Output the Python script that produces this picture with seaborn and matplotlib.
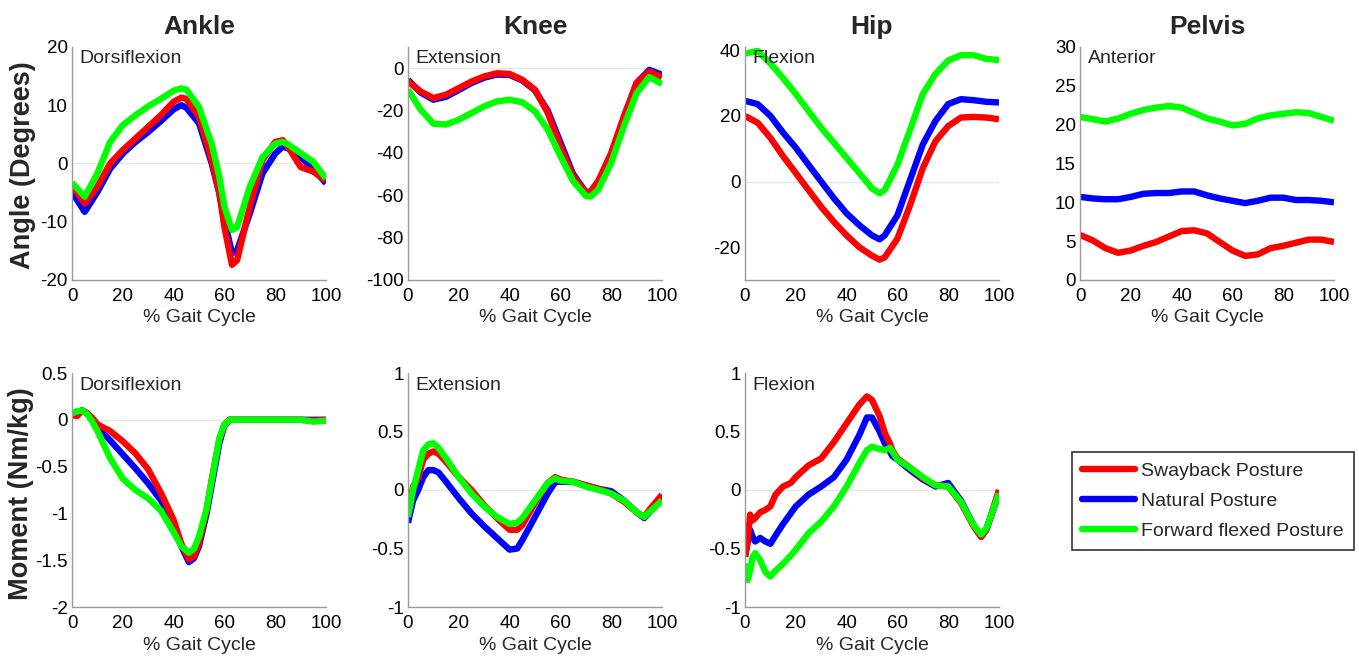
import matplotlib
matplotlib.use("Agg")
import matplotlib.pyplot as plt
import seaborn as sns
from matplotlib.lines import Line2D
from matplotlib.ticker import FuncFormatter

sns.set_style("white")
plt.rcParams['font.family'] = ['Liberation Sans', 'DejaVu Sans']
plt.rcParams['axes.unicode_minus'] = False

# ---------------- data ----------------
series_names = ["Swayback Posture", "Natural Posture", "Forward flexed Posture"]
series_colors = ["#ff0000", "#0000ff", "#00ff00"]

col_titles = ["Ankle", "Knee", "Hip", "Pelvis"]
row_labels = ["Angle (Degrees)", "Moment (Nm/kg)"]

# Ankle angle
aa_x = [0, 5, 10, 15, 20, 25, 30, 35, 40, 43, 45, 50, 55, 58, 60, 63, 65, 70, 75, 80, 83, 85, 90, 95, 100]
aa_sway = [-3.7, -6.9, -4.0, 0.0, 2.3, 4.3, 6.3, 8.3, 10.6, 11.3, 11.1, 8.0, 0.6, -5.1, -10.9, -17.4, -16.6, -7.4, 0.6, 3.7, 4.0, 2.9, -0.6, -1.4, -2.9]
aa_nat = [-4.9, -8.3, -4.9, -0.9, 1.7, 3.7, 5.4, 7.3, 9.3, 10.0, 9.6, 6.9, 0.0, -5.1, -9.7, -15.4, -14.9, -8.6, -1.7, 1.7, 2.9, 2.6, 1.1, -0.9, -3.4]
aa_fwd = [-3.3, -5.7, -1.7, 3.7, 6.6, 8.3, 9.8, 11.1, 12.5, 12.9, 12.7, 9.7, 3.4, -2.3, -7.4, -11.4, -10.9, -4.0, 1.1, 3.4, 3.7, 3.3, 1.8, 0.3, -2.6]

# Knee angle
ka_x = [0, 5, 10, 15, 20, 25, 30, 35, 40, 45, 50, 55, 60, 65, 70, 72, 75, 80, 85, 90, 95, 100]
ka_sway = [-6.3, -11.0, -14.1, -12.5, -9.4, -6.3, -3.9, -2.4, -2.7, -5.5, -10.2, -21.0, -37.0, -51.0, -58.8, -58.0, -53.0, -40.0, -22.7, -7.0, -1.6, -4.2]
ka_nat = [-5.5, -11.5, -14.9, -13.5, -10.3, -7.0, -4.5, -3.0, -3.2, -5.8, -10.5, -20.0, -35.0, -50.0, -58.5, -58.5, -54.0, -41.0, -23.5, -7.0, -0.8, -3.1]
ka_fwd = [-10.2, -19.6, -26.2, -26.6, -24.3, -21.2, -18.0, -15.7, -14.9, -16.1, -20.4, -29.0, -41.5, -53.3, -60.3, -60.6, -57.2, -44.7, -27.4, -11.8, -4.2, -7.4]

# Hip angle
ha_x = [0, 5, 10, 15, 20, 25, 30, 35, 40, 45, 50, 53, 55, 60, 65, 70, 75, 80, 85, 90, 95, 100]
ha_sway = [20.0, 17.9, 13.3, 7.7, 2.6, -2.6, -7.7, -12.3, -16.4, -20.0, -22.6, -23.8, -23.1, -17.4, -7.2, 4.1, 12.3, 16.9, 19.5, 19.7, 19.5, 19.0]
ha_nat = [24.6, 23.6, 20.0, 14.9, 10.3, 5.1, 0.0, -5.1, -9.7, -13.3, -16.4, -17.6, -16.4, -10.3, 0.5, 11.3, 18.5, 23.6, 25.1, 24.8, 24.3, 24.1]
ha_fwd = [39.0, 39.8, 36.0, 31.5, 26.7, 21.5, 16.4, 11.8, 7.2, 2.6, -2.1, -3.6, -2.6, 5.1, 15.8, 26.7, 32.8, 36.9, 38.5, 38.5, 37.4, 37.0]

# Pelvis angle
pa_x = [0, 5, 10, 15, 20, 25, 30, 35, 40, 45, 50, 55, 60, 65, 70, 75, 80, 85, 90, 95, 100]
pa_sway = [5.8, 5.1, 4.1, 3.5, 3.8, 4.4, 4.9, 5.6, 6.3, 6.4, 6.0, 4.9, 3.8, 3.1, 3.3, 4.1, 4.4, 4.8, 5.2, 5.2, 4.9]
pa_nat = [10.7, 10.5, 10.4, 10.4, 10.7, 11.1, 11.2, 11.2, 11.4, 11.4, 10.9, 10.5, 10.2, 9.9, 10.2, 10.6, 10.6, 10.3, 10.3, 10.2, 10.0]
pa_fwd = [21.0, 20.7, 20.4, 20.8, 21.4, 21.9, 22.2, 22.4, 22.2, 21.5, 20.8, 20.4, 19.9, 20.1, 20.8, 21.2, 21.4, 21.6, 21.5, 21.0, 20.5]

# Ankle moment
am_x = [0, 2, 4, 6, 8, 10, 15, 20, 25, 30, 35, 40, 43, 46, 48, 50, 53, 55, 58, 60, 62, 65, 70, 80, 90, 95, 100]
am_sway = [0.05, 0.04, 0.10, 0.07, 0.02, -0.05, -0.12, -0.23, -0.36, -0.53, -0.78, -1.07, -1.32, -1.49, -1.46, -1.32, -0.96, -0.64, -0.21, -0.05, 0.0, 0.0, 0.0, 0.0, 0.0, -0.01, 0.0]
am_nat = [0.05, 0.06, 0.10, 0.07, 0.0, -0.08, -0.22, -0.37, -0.52, -0.68, -0.86, -1.10, -1.35, -1.52, -1.48, -1.35, -1.00, -0.70, -0.25, -0.06, 0.0, 0.0, 0.0, 0.0, 0.0, 0.0, 0.0]
am_fwd = [0.07, 0.09, 0.10, 0.06, -0.02, -0.12, -0.41, -0.63, -0.75, -0.84, -0.97, -1.20, -1.35, -1.42, -1.38, -1.25, -0.95, -0.65, -0.20, -0.05, 0.0, 0.0, 0.0, 0.0, 0.0, -0.02, -0.01]

# Knee moment
km_x = [0, 2, 4, 6, 8, 10, 12, 15, 20, 25, 30, 35, 40, 43, 45, 50, 55, 58, 60, 65, 70, 75, 80, 85, 90, 93, 95, 100]
km_sway = [-0.21, 0.03, 0.10, 0.26, 0.31, 0.33, 0.31, 0.24, 0.11, 0.0, -0.13, -0.24, -0.34, -0.34, -0.30, -0.11, 0.06, 0.11, 0.09, 0.07, 0.04, 0.01, -0.03, -0.10, -0.19, -0.23, -0.17, -0.04]
km_nat = [-0.28, -0.09, 0.0, 0.11, 0.17, 0.17, 0.15, 0.07, -0.07, -0.20, -0.31, -0.41, -0.51, -0.50, -0.43, -0.23, -0.03, 0.07, 0.07, 0.07, 0.04, 0.01, -0.01, -0.09, -0.19, -0.24, -0.19, -0.07]
km_fwd = [-0.23, 0.0, 0.17, 0.34, 0.39, 0.40, 0.36, 0.27, 0.11, -0.03, -0.14, -0.23, -0.29, -0.28, -0.24, -0.09, 0.06, 0.10, 0.08, 0.07, 0.03, 0.0, -0.03, -0.09, -0.19, -0.23, -0.19, -0.09]

# Hip moment
hm_x = [0, 1, 2, 3, 4, 6, 8, 10, 12, 15, 18, 20, 25, 30, 35, 40, 45, 48, 50, 53, 55, 57, 58, 60, 65, 70, 75, 80, 85, 90, 93, 95, 100]
hm_sway = [-0.57, -0.45, -0.21, -0.26, -0.24, -0.19, -0.17, -0.14, -0.04, 0.03, 0.06, 0.11, 0.21, 0.27, 0.41, 0.57, 0.73, 0.80, 0.77, 0.63, 0.49, 0.40, 0.34, 0.27, 0.19, 0.10, 0.04, 0.03, -0.11, -0.31, -0.40, -0.34, 0.0]
hm_nat = [-0.57, -0.45, -0.34, -0.40, -0.44, -0.41, -0.44, -0.46, -0.39, -0.29, -0.20, -0.14, -0.04, 0.03, 0.11, 0.26, 0.47, 0.62, 0.62, 0.50, 0.40, 0.33, 0.29, 0.26, 0.17, 0.09, 0.03, 0.06, -0.09, -0.30, -0.40, -0.34, -0.03]
hm_fwd = [-0.63, -0.77, -0.69, -0.57, -0.54, -0.60, -0.70, -0.74, -0.69, -0.63, -0.56, -0.51, -0.37, -0.27, -0.14, 0.03, 0.23, 0.34, 0.37, 0.35, 0.34, 0.36, 0.33, 0.26, 0.19, 0.11, 0.04, 0.03, -0.10, -0.30, -0.38, -0.33, -0.03]

x_ticks = [0, 20, 40, 60, 80, 100]
x_label = "% Gait Cycle"

panels = [
    # (row, col, x, [sway, nat, fwd], ylim, yticks, annotation)
    (0, 0, aa_x, [aa_sway, aa_nat, aa_fwd], (-20, 20), [-20, -10, 0, 10, 20], "Dorsiflexion"),
    (0, 1, ka_x, [ka_sway, ka_nat, ka_fwd], (-100, 10), [-100, -80, -60, -40, -20, 0], "Extension"),
    (0, 2, ha_x, [ha_sway, ha_nat, ha_fwd], (-30, 41), [-20, 0, 20, 40], "Flexion"),
    (0, 3, pa_x, [pa_sway, pa_nat, pa_fwd], (0, 30), [0, 5, 10, 15, 20, 25, 30], "Anterior"),
    (1, 0, am_x, [am_sway, am_nat, am_fwd], (-2, 0.5), [-2, -1.5, -1, -0.5, 0, 0.5], "Dorsiflexion"),
    (1, 1, km_x, [km_sway, km_nat, km_fwd], (-1, 1), [-1, -0.5, 0, 0.5, 1], "Extension"),
    (1, 2, hm_x, [hm_sway, hm_nat, hm_fwd], (-1, 1), [-1, -0.5, 0, 0.5, 1], "Flexion"),
]

# ---------------- layout ----------------
W, H = 1359, 656
fig = plt.figure(figsize=(W / 100, H / 100), dpi=100)

lefts = [72, 408, 745, 1080]
axw = 254
row_tops = [47, 373]
row_bottoms = [280, 607]

draw_order = [1, 0, 2]  # natural, swayback, forward flexed (z-order as in the figure)
fmt = FuncFormatter(lambda v, p: "%g" % v)

for (r, c, xs, ys, ylim, yticks, note) in panels:
    ax = fig.add_axes([lefts[c] / W, 1 - row_bottoms[r] / H, axw / W,
                       (row_bottoms[r] - row_tops[r]) / H])
    ax.axhline(0, color="#e6e6e6", lw=0.9, zorder=0)
    for k in draw_order:
        sns.lineplot(x=xs, y=ys[k], ax=ax, color=series_colors[k], linewidth=4.6,
                     solid_capstyle="butt", solid_joinstyle="round", legend=False)
    ax.set_xlim(0, 100)
    ax.set_ylim(*ylim)
    ax.set_xticks(x_ticks)
    ax.set_yticks(yticks)
    ax.yaxis.set_major_formatter(fmt)
    ax.xaxis.set_major_formatter(fmt)
    ax.tick_params(direction="in", length=4, width=0.8, color="#9a9a9a",
                   labelsize=13.5, labelcolor="black")
    ax.tick_params(axis="x", pad=6)
    ax.tick_params(axis="y", pad=3)
    for s in ["top", "right"]:
        ax.spines[s].set_visible(False)
    for s in ["left", "bottom"]:
        ax.spines[s].set_color("#9a9a9a")
        ax.spines[s].set_linewidth(1.0)
    ax.set_xlabel(x_label, fontsize=14, labelpad=3)
    ax.set_ylabel("")
    ax.text(0.03, 0.985, note, transform=ax.transAxes, ha="left", va="top", fontsize=14)
    if r == 0:
        ax.set_title(col_titles[c], fontsize=19, fontweight="bold", pad=9)

fig.text(23 / W, 1 - 165 / H, row_labels[0], rotation=90, fontsize=19.5,
         fontweight="bold", ha="center", va="center")
fig.text(21 / W, 1 - 494 / H, row_labels[1], rotation=90, fontsize=19.5,
         fontweight="bold", ha="center", va="center")

handles = [Line2D([0], [0], color=series_colors[k], lw=4.6) for k in range(3)]
leg = fig.legend(handles, series_names, loc="center",
                 bbox_to_anchor=(((1075 + 1351) / 2) / W, 1 - ((451 + 551) / 2) / H),
                 fontsize=14, frameon=True, fancybox=False, handlelength=2.7,
                 handletextpad=0.35, labelspacing=0.65, borderpad=0.5, borderaxespad=0)
leg.get_frame().set_edgecolor("black")
leg.get_frame().set_linewidth(1.2)

fig.savefig("out.png", dpi=100)
